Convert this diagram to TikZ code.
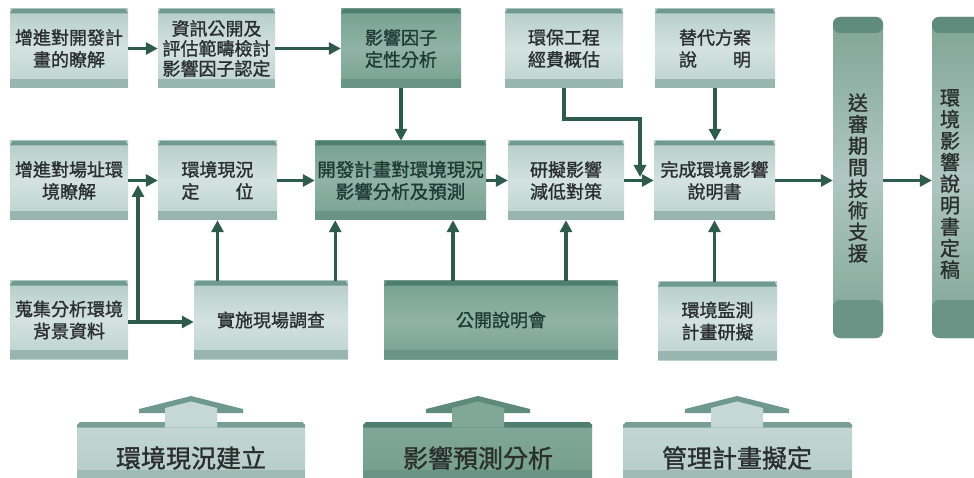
\documentclass[tikz,border=0pt]{standalone}
\usepackage{fontspec}
\setmainfont{Noto Sans CJK TC}[FakeBold=1.2]
\usetikzlibrary{arrows.meta}
\definecolor{lfA}{HTML}{B6CDC8}
\definecolor{lfB}{HTML}{D3E2DF}
\definecolor{lfC}{HTML}{BCD2CD}
\definecolor{ltop}{HTML}{6F9A8D}
\definecolor{lbot}{HTML}{98B6AF}
\definecolor{dfA}{HTML}{77A091}
\definecolor{dfB}{HTML}{8FB3A6}
\definecolor{dtop}{HTML}{4E7E6F}
\definecolor{dbot}{HTML}{6A9485}
\definecolor{arr}{HTML}{2F5B4D}
\definecolor{ltext}{HTML}{2A2F2D}
\definecolor{dtext}{HTML}{1E3A32}
\definecolor{tA}{HTML}{7FA496}
\definecolor{tB}{HTML}{AFC7C0}
\definecolor{tcap}{HTML}{5F8B7C}
\definecolor{tbot}{HTML}{6A9486}
\definecolor{lrbA}{HTML}{C4D7D3}
\definecolor{lrbB}{HTML}{B6CCC7}
\definecolor{lrstripe}{HTML}{779F93}
\definecolor{lrhead}{HTML}{6F998C}
\definecolor{lrshaft}{HTML}{C5D8D4}
\definecolor{lrband}{HTML}{A0BBB5}
\definecolor{drbA}{HTML}{80A798}
\definecolor{drbB}{HTML}{779F90}
\definecolor{drstripe}{HTML}{4E7E6F}
\definecolor{drhead}{HTML}{5E8A7B}
\definecolor{drshaft}{HTML}{80A798}
\definecolor{drband}{HTML}{6A9485}
\newcommand\bxf{\fontsize{18}{22}\selectfont}
\newcommand\bxfs{\fontsize{18}{20}\selectfont}
\newcommand\ribf{\fontsize{25}{28}\selectfont}
\newcommand\ribbon[6]{%
  \shade[top color=#4rbA, bottom color=#4rbB] (#1,480) -- (#1,425) -- (#1+3,422) -- (#2-3,422) -- (#2,425) -- (#2,480) -- cycle;
  \fill[#4rstripe] (#1,427.5) -- (#1,425) -- (#1+3,422) -- (#2-3,422) -- (#2,425) -- (#2,427.5) -- cycle;
  \fill[#4rhead] (#3-52,413) -- (#3-52,409) -- (#3,396) -- (#3+52,409) -- (#3+52,413) -- cycle;
  \fill[#4rshaft] (#3-26,427.5) -- (#3-26,408) -- (#3,401.5) -- (#3+26,408) -- (#3+26,427.5) -- cycle;
  \fill[#4rband] (#1,470) rectangle (#2,480);
  \node[font=\ribf, text=ltext] (#5) at (#3,458) {#6};
}
\begin{document}
\begin{tikzpicture}[x=1pt,y=-1pt,
  every node/.style={inner sep=0pt, align=center},
  bandpic/.style 2 args={path picture={
    \fill[#1] ([yshift=-4.5pt]path picture bounding box.north west) -- ([xshift=2.5pt]path picture bounding box.north west) -- ([xshift=-2.5pt]path picture bounding box.north east) -- ([yshift=-4.5pt]path picture bounding box.north east) -- cycle;
    \fill[#2] (path picture bounding box.south west) rectangle ([yshift=9pt]path picture bounding box.south east);}},
  lbox/.style={rectangle, minimum width=#1, minimum height=79pt, top color=lfA, bottom color=lfC, middle color=lfB, text=ltext, font=\bxf, bandpic={ltop}{lbot}},
  dbox/.style={rectangle, minimum width=#1, minimum height=79pt, top color=dfA, bottom color=dfA, middle color=dfB, text=dtext, font=\bxf, bandpic={dtop}{dbot}},
  tallbox/.style={rectangle, rounded corners=7pt, minimum width=#1, minimum height=321pt, top color=tA, bottom color=tA, middle color=tB,
    path picture={
      \shade[top color=tcap, bottom color=tA] (path picture bounding box.north west) rectangle ([yshift=-16pt]path picture bounding box.north east);
      \fill[tbot] (path picture bounding box.south west) rectangle ([yshift=38pt]path picture bounding box.south east);}},
  tallfont/.style={font=\fontsize{20}{21.5}\selectfont, text=ltext},
  conn/.style={draw=arr, line width=3.2pt, -{Triangle[length=12pt,width=12pt]}}
]
\useasboundingbox (0,0) rectangle (974,478);
\fill[white] (0,0) rectangle (974,478);
% row 1
\node[lbox=118pt] (A) at (69,48.5) {增進對開發計\\畫的瞭解};
\node[lbox=117pt, font=\bxfs] (B) at (216.5,48.5) {資訊公開及\\評估範疇檢討\\影響因子認定};
\node[dbox=120pt] (C) at (401,48.5) {影響因子\\定性分析};
\node[lbox=118pt] (D) at (564,48.5) {環保工程\\經費概估};
\node[lbox=120pt] (E) at (715,48.5) {替代方案\\說\hspace{2em}明};
% row 2
\node[lbox=118pt] (F) at (69,180.5) {增進對場址環\\境瞭解};
\node[lbox=119pt] (G) at (217.5,180.5) {環境現況\\定\hspace{2em}位};
\node[dbox=171pt, font=\fontsize{18.5}{22}\selectfont] (H) at (400.5,180.5) {開發計畫對環境現況\\影響分析及預測};
\node[lbox=116pt] (I) at (566,180.5) {研擬影響\\減低對策};
\node[lbox=121pt] (J) at (714.5,180.5) {完成環境影響\\說明書};
% row 3
\node[lbox=118pt, minimum height=78pt] (K) at (69,320) {蒐集分析環境\\背景資料};
\node[lbox=154pt, minimum height=78pt] (L) at (271,320) {實施現場調查};
\node[dbox=234pt, minimum height=78pt] (M) at (501,320) {公開說明會};
\node[lbox=119pt, minimum height=78pt] (N) at (717.5,321) {環境監測\\計畫研擬};
% tall boxes
\node[tallbox=50pt] (P) at (858,177.5) {};
\node[tallfont] (Pt) at (858,178) {送\\審\\期\\間\\技\\術\\支\\援};
\node[tallbox=50pt] (Q) at (957,177.5) {};
\node[tallfont] (Qt) at (950,184) {環\\境\\影\\響\\說\\明\\書\\定\\稿};
% connectors
\draw[conn] (A) -- (B);
\draw[conn] (B) -- (C);
\draw[conn] (C.south) -- (C.south |- H.north);
\coordinate (dturn) at (640,119);
\coordinate (djoin) at (640,177);
\draw[conn] (D.south) |- (dturn) -- (djoin);
\draw[conn] (E.south) -- (E.south |- J.north);
\draw[conn] (F) -- (G);
\draw[conn] (G) -- (H);
\draw[conn] (H) -- (I);
\draw[conn] (I) -- (J);
\draw[conn] (J.east) -- (P.west |- J.east);
\draw[conn] (P.east |- J.east) -- (Q.west |- J.east);
\coordinate (kb) at (138,322);
\coordinate (kt) at (138,185);
\draw[conn] (K.east |- kb) -- (L.west |- kb);
\draw[conn] (kb) -- (kt);
\draw[conn] (G.south |- L.north) -- (G.south);
\draw[conn] ([xshift=-13pt]L.north east) -- ([xshift=-13pt]L.north east |- H.south);
\draw[conn] ([xshift=-48pt]M.north) -- ([xshift=-48pt]M.north |- H.south);
\draw[conn] (I.south |- M.north) -- (I.south);
\draw[conn] (J.south |- N.north) -- (J.south);
% bottom ribbons
\ribbon{77}{305}{191}{l}{R1}{環境現況建立}
\ribbon{363}{592}{478}{d}{R2}{影響預測分析}
\ribbon{623}{852}{737}{l}{R3}{管理計畫擬定}
\end{tikzpicture}
\end{document}
